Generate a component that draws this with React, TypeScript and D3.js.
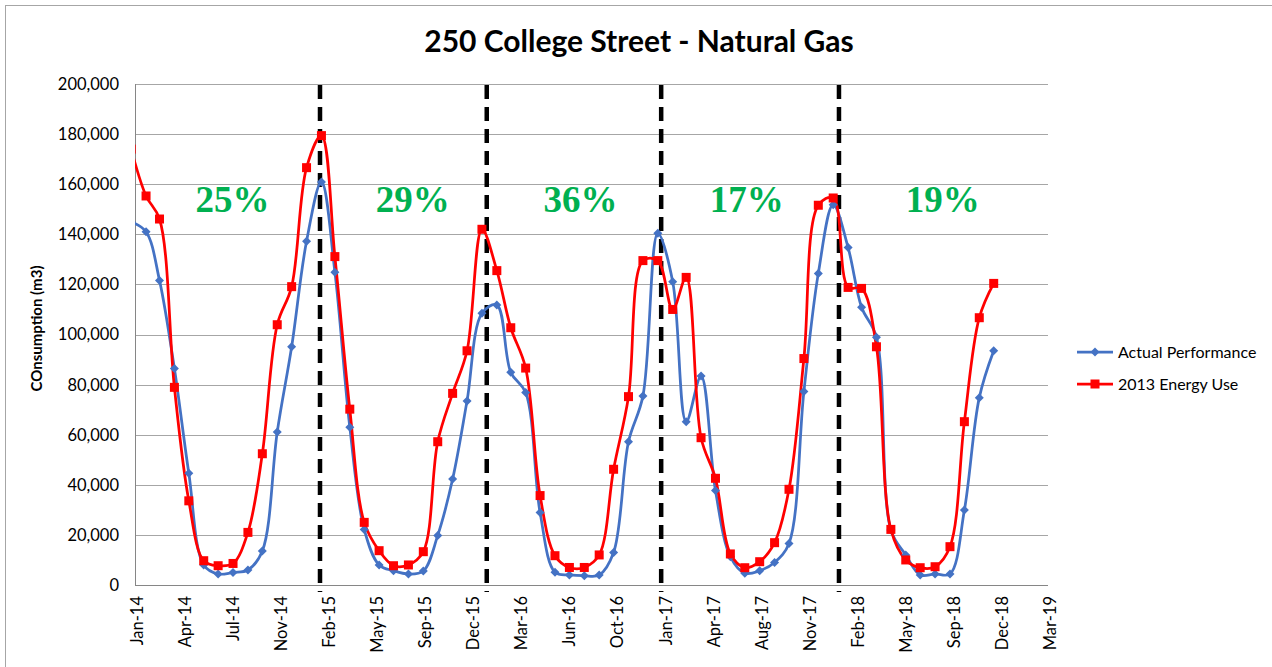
import React from "react";
import * as d3 from "d3";

const title = "250 College Street - Natural Gas";
const yAxisTitle = "COnsumption (m3)";
const seriesNames = ["Actual Performance", "2013 Energy Use"];

// monthly, Jan-14 .. Dec-18
const actual = [
  145000, 141000, 121600, 86400, 44600, 8000, 4400, 5000, 6000, 13600, 61100, 95100,
  137200, 160900, 124900, 63000, 22200, 8000, 5700, 4400, 5600, 19800, 42300, 73500,
  108500, 111800, 84900, 76800, 28900, 5100, 4000, 3700, 4000, 13000, 57200, 75400,
  140400, 121100, 65200, 83400, 37700, 11300, 4700, 5700, 9000, 16600, 77200, 124400,
  151800, 134700, 110900, 98900, 22000, 12000, 4000, 4400, 4400, 29900, 74800, 93500,
];
const baseline2013 = [
  174000, 155300, 146100, 78900, 33600, 9700, 7700, 8600, 21000, 52400, 103900, 119100,
  166600, 179400, 131100, 70200, 25000, 13700, 7700, 8000, 13300, 57200, 76500, 93500,
  142000, 125500, 102700, 86600, 35700, 11700, 7000, 7000, 12000, 46200, 75200, 129500,
  129500, 110000, 122800, 58800, 42600, 12400, 6900, 9300, 16900, 38200, 90400, 151600,
  154500, 118800, 118400, 95100, 22200, 10000, 6900, 7300, 15300, 65200, 106700, 120400,
];
const months = actual.map((_, i) => new Date(2014, i, 1));

const yTicks = d3.range(0, 200001, 20000);
const axisStart = new Date(2014, 0, 9);
const tickStepDays = 100;
const tickCount = 20;
const tickDates = d3.range(tickCount).map((i) => new Date(2014, 0, 9 + i * tickStepDays));

const dividerDates = [new Date(2015, 0, 29), new Date(2016, 0, 11), new Date(2017, 0, 8), new Date(2018, 0, 13)];
const savingsLabels = ["25%", "29%", "36%", "17%", "19%"];
const savingsDates = [new Date(2014, 6, 31), new Date(2015, 7, 10), new Date(2016, 6, 24), new Date(2017, 6, 5), new Date(2018, 7, 17)];

const W = 1272;
const H = 667;
const plot = { left: 135, right: 1048, top: 84, bottom: 585 };

export default function App() {
  const x = d3
    .scaleTime()
    .domain([axisStart, new Date(2014, 0, 9 + (tickCount - 1) * tickStepDays)])
    .range([plot.left, plot.right]);
  const y = d3.scaleLinear().domain([0, 200000]).range([plot.bottom, plot.top]);
  const fmtX = d3.timeFormat("%b-%y");
  const fmtY = d3.format(",");

  const line = d3
    .line<number>()
    .x((_, i) => x(months[i]))
    .y((d) => y(d))
    .curve(d3.curveCatmullRom.alpha(0.5));

  const blue = "#4472C4";
  const red = "#FF0000";
  const font = "Lato, 'Open Sans', sans-serif";

  const diamond = (cx: number, cy: number, r: number) =>
    `M${cx},${cy - r}L${cx + r},${cy}L${cx},${cy + r}L${cx - r},${cy}Z`;

  return (
    <svg width={W} height={H} style={{ position: "absolute", left: 0, top: 0 }} fontFamily={font}>
      <rect x={0} y={0} width={W} height={H} fill="#fff" />
      <rect x={5.5} y={5.5} width={W + 20} height={H + 20} fill="none" stroke="#A6A6A6" strokeWidth={1} />
      <defs>
        <clipPath id="plotClip">
          <rect x={plot.left} y={plot.top - 20} width={plot.right - plot.left} height={plot.bottom - plot.top + 40} />
        </clipPath>
      </defs>
      <text x={639} y={52} textAnchor="middle" fontSize={30} fontWeight="bold" fill="#000">
        {title}
      </text>
      {/* gridlines */}
      {yTicks.slice(1).map((t) => (
        <line key={t} x1={plot.left} x2={plot.right} y1={Math.round(y(t)) + 0.5} y2={Math.round(y(t)) + 0.5} stroke="#A6A6A6" strokeWidth={1} />
      ))}
      {/* axes */}
      <line x1={plot.left + 0.5} x2={plot.left + 0.5} y1={plot.top} y2={plot.bottom} stroke="#868686" />
      <line x1={plot.left} x2={plot.right} y1={plot.bottom + 0.5} y2={plot.bottom + 0.5} stroke="#868686" />
      {yTicks.map((t) => (
        <text key={t} x={119} y={y(t)} dy="0.36em" textAnchor="end" fontSize={16.5} fill="#000">
          {fmtY(t)}
        </text>
      ))}
      {tickDates.map((d, i) => (
        <text
          key={i}
          transform={`translate(${x(d) + 2},596) rotate(-90)`}
          dy="0.36em"
          textAnchor="end"
          fontSize={16.5}
          fill="#000"
        >
          {fmtX(d)}
        </text>
      ))}
      <text transform={`translate(37,${(plot.top + plot.bottom) / 2 - 6}) rotate(-90)`} dy="0.36em" textAnchor="middle" fontSize={15} fontWeight="bold">
        {yAxisTitle}
      </text>
      {/* dividers */}
      {dividerDates.map((d, i) => (
        <line key={i} x1={x(d)} x2={x(d)} y1={y(200000) + 1} y2={y(0) + 7} stroke="#000" strokeWidth={4.5} strokeDasharray="14 8" />
      ))}
      <g clipPath="url(#plotClip)">
        <path d={line(actual) || ""} fill="none" stroke={blue} strokeWidth={2.75} />
        <path d={line(baseline2013) || ""} fill="none" stroke={red} strokeWidth={2.75} />
        {actual.map((v, i) => (
          <path key={"b" + i} d={diamond(x(months[i]), y(v), 4.5)} fill={blue} />
        ))}
        {baseline2013.map((v, i) => (
          <rect key={"r" + i} x={x(months[i]) - 4.5} y={y(v) - 4.5} width={9} height={9} fill={red} />
        ))}
      </g>
      {savingsLabels.map((s, i) => (
        <text key={s} x={x(savingsDates[i])} y={212} textAnchor="middle" fontFamily="'Liberation Serif', 'Times New Roman', serif" fontWeight="bold" fontSize={37} fill="#00B050">
          {s}
        </text>
      ))}
      {/* legend */}
      <g>
        <line x1={1077} x2={1113} y1={352} y2={352} stroke={blue} strokeWidth={2.75} />
        <path d={diamond(1095, 352, 4.5)} fill={blue} />
        <text x={1118} y={352} dy="0.36em" fontSize={16}>
          {seriesNames[0]}
        </text>
        <line x1={1077} x2={1113} y1={384} y2={384} stroke={red} strokeWidth={2.75} />
        <rect x={1090.5} y={379.5} width={9} height={9} fill={red} />
        <text x={1118} y={384} dy="0.36em" fontSize={16}>
          {seriesNames[1]}
        </text>
      </g>
    </svg>
  );
}
